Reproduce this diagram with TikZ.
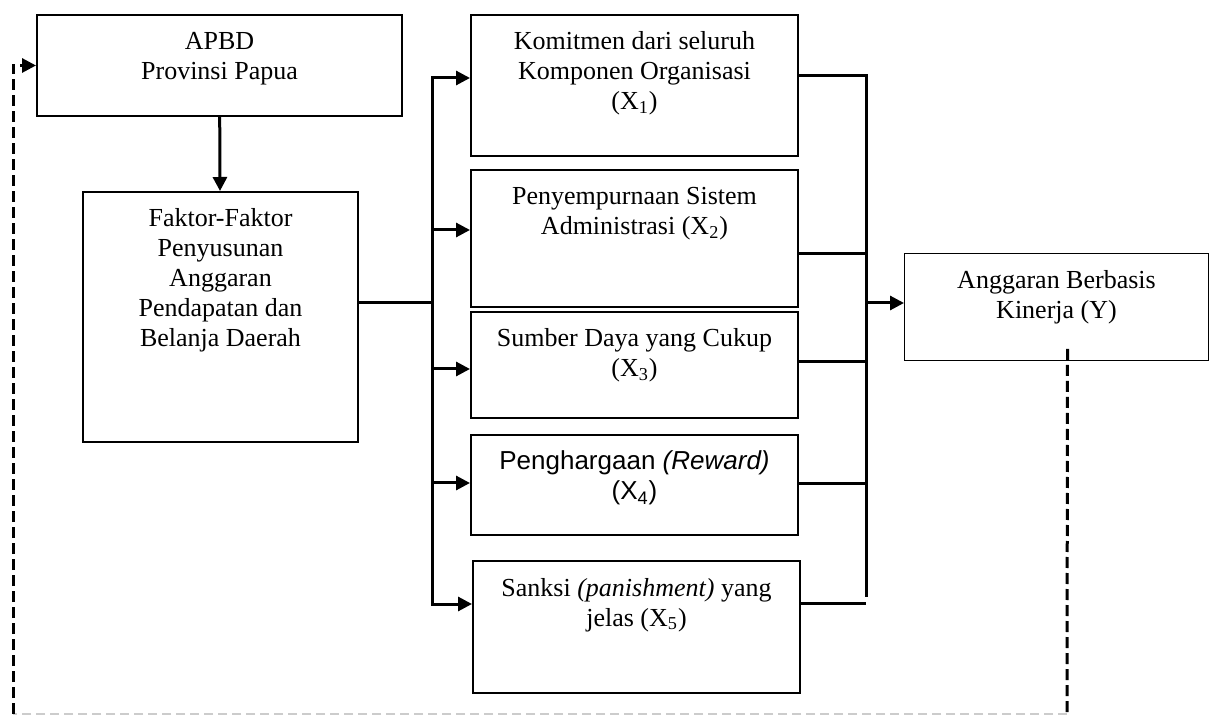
\documentclass[tikz,border=0pt]{standalone}
\usepackage{fontspec}
\setmainfont{Liberation Serif}
\newfontfamily\arialfont{Liberation Sans}
\usetikzlibrary{arrows.meta}
\tikzset{
  box/.style={draw, line width=1pt, anchor=north west, inner sep=0pt,
    font=\fontsize{13pt}{15pt}\selectfont},
  thinbox/.style={box, line width=0.5pt},
  line/.style={line width=1.5pt},
  arr/.style={line width=1.5pt, -{Triangle[length=7pt, width=7pt]}},
  fb/.style={line width=1.5pt, dash pattern=on 5.5pt off 2.5pt},
  fbgray/.style={gray!40, line width=0.6pt, dash pattern=on 4.5pt off 2.5pt},
}
% text set at the top of a box of given width and height
\newcommand{\topbox}[3]{\parbox[c][#2][t]{#1}{\centering\rule{0pt}{17.5pt}#3}}

\begin{document}
\begin{tikzpicture}[x=0.5pt, y=-0.5pt]
    \useasboundingbox (0,0) rectangle (1209,715);

    % boxes
    \node[box] (apbd) at (36,14) {\topbox{182.5pt}{50.5pt}{APBD\\ Provinsi Papua}};
    \node[box] (faktor) at (82,191) {\topbox{137.5pt}{125pt}{Faktor-Faktor\\ Penyusunan\\ Anggaran\\ Pendapatan dan\\ Belanja Daerah}};
    \node[box] (x1) at (470,14) {\topbox{163.5pt}{70.5pt}{Komitmen dari seluruh\\ Komponen Organisasi\\ (X\textsubscript{1})}};
    \node[box] (x2) at (470,169) {\topbox{163.5pt}{68.5pt}{Penyempurnaan Sistem\\ Administrasi (X\textsubscript{2})}};
    \node[box] (x3) at (470,311) {\topbox{163.5pt}{53pt}{Sumber Daya yang Cukup\\ (X\textsubscript{3})}};
    \node[box] (x4) at (470,434) {\topbox{163.5pt}{50pt}{\arialfont Penghargaan \textit{(Reward)}\\ (X\textsubscript{4})}};
    \node[box] (x5) at (472,560) {\topbox{163.5pt}{66pt}{Sanksi \textit{(panishment)} yang\\ jelas (X\textsubscript{5})}};
    \node[thinbox] (yk) at (904,253) {\topbox{152pt}{53.5pt}{Anggaran Berbasis\\ Kinerja (Y)}};

    % left bus
    \coordinate (lt) at (432,78);
    \coordinate (lm) at (432,303);
    \coordinate (lb) at (432,604);
    \draw[arr] (apbd) -- (faktor);
    \draw[line] (faktor.east |- lm) -- (lm);
    \draw[arr] (lm) -- (lt) -- (x1.west |- lt);
    \draw[arr] (lm) -- (lb) -- (x5.west |- lb);
    \foreach \n/\y in {x2/230, x3/369, x4/483}
      \draw[arr] (lm |- 0,\y) -- (\n.west |- 0,\y);

    % right bus
    \coordinate (rt) at (866,76);
    \coordinate (rm) at (866,303);
    \coordinate (rb) at (866,597);
    \draw[line] (x1.east |- rt) -- (rt) -- (rb);
    \foreach \n/\y in {x2/254, x3/362, x4/484, x5/603}
      \draw[line] (\n.east |- 0,\y) -- (rt |- 0,\y);
    \draw[arr] (rm) -- (yk.west |- rm);

    % feedback
    \coordinate (fbr) at (1067,714);
    \coordinate (fbl) at (13,714);
    \draw[fb] ([xshift=5.5pt, yshift=6pt]yk.south) -- (fbr);
    \draw[fbgray] (fbr) -- (fbl);
    \draw[fb, -{Triangle[length=7pt, width=7pt]}] (fbl) |- (apbd.west);
\end{tikzpicture}
\end{document}
